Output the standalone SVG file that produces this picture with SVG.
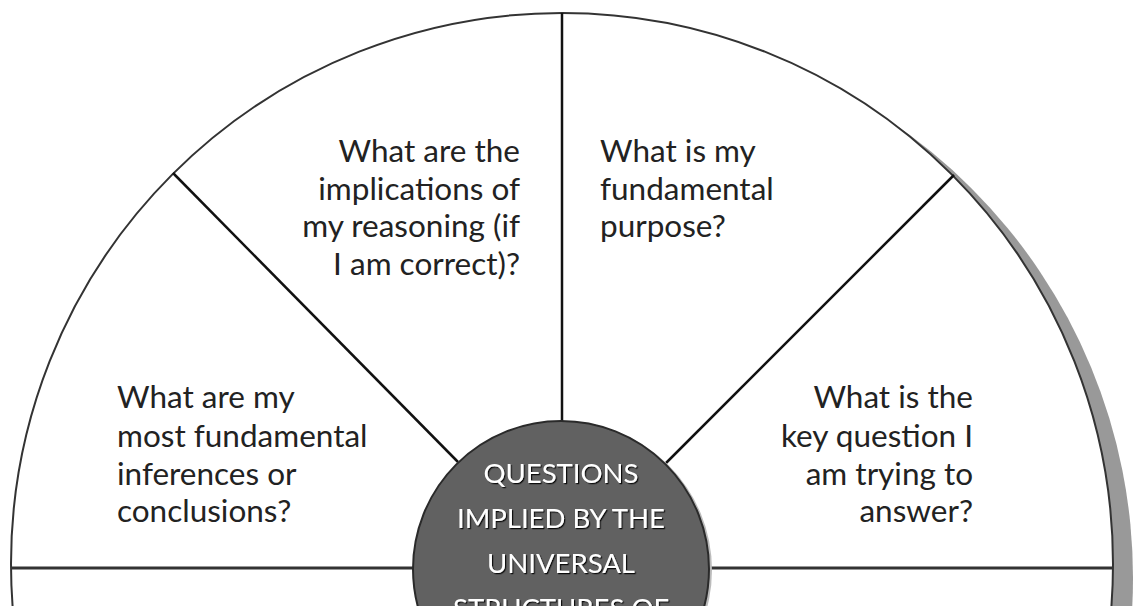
<svg xmlns="http://www.w3.org/2000/svg" width="1137" height="606" viewBox="0 0 1137 606">
<style>
.q{font-family:Lato,"Open Sans","DejaVu Sans",sans-serif;font-size:31.5px;fill:#222}
.c{font-family:Lato,"Open Sans","DejaVu Sans",sans-serif;font-size:27.5px;fill:#fff;text-anchor:middle;filter:url(#emb)}
.div{stroke:#111;stroke-width:2.5;fill:none}
</style>
<defs>
<filter id="emb" x="-10%" y="-30%" width="120%" height="160%">
<feDropShadow dx="1.2" dy="1.2" stdDeviation="0.6" flood-color="#111" flood-opacity="1"/>
</filter>
</defs>
<rect width="1137" height="606" fill="#fff"/>
<g id="wheel">
<circle cx="582" cy="578" r="551" fill="#999"/>
<circle cx="562" cy="564" r="551" fill="#fff" stroke="#333" stroke-width="2"/>
</g>
<g id="connectors">
<line class="div" x1="562" y1="13" x2="562" y2="421"/>
<line class="div" x1="173" y1="173" x2="458" y2="462"/>
<line class="div" x1="954" y1="175" x2="666" y2="463"/>
<line x1="11" y1="568" x2="413" y2="568" stroke="#333" stroke-width="3"/>
<line x1="709" y1="568" x2="1113" y2="568" stroke="#333" stroke-width="3"/>
</g>
<g id="center">
<circle cx="564" cy="570" r="148" fill="#bbb"/>
<circle cx="561" cy="569" r="148" fill="#616161" stroke="#2a2a2a" stroke-width="2"/>
<text class="c" x="561" y="483">QUESTIONS</text>
<text class="c" x="561" y="528">IMPLIED BY THE</text>
<text class="c" x="561" y="573">UNIVERSAL</text>
<text class="c" x="561" y="618">STRUCTURES OF</text>
</g>
<g id="implications">
<text class="q" text-anchor="end" x="520"><tspan x="520" y="162">What are the</tspan><tspan x="520" y="200">implications of</tspan><tspan x="520" y="237">my reasoning (if</tspan><tspan x="520" y="275">I am correct)?</tspan></text>
</g>
<g id="purpose">
<text class="q" x="600"><tspan x="600" y="162">What is my</tspan><tspan x="600" y="200">fundamental</tspan><tspan x="600" y="237">purpose?</tspan></text>
</g>
<g id="inferences">
<text class="q" x="117"><tspan x="117" y="408">What are my</tspan><tspan x="117" y="447">most fundamental</tspan><tspan x="117" y="485">inferences or</tspan><tspan x="117" y="522">conclusions?</tspan></text>
</g>
<g id="question">
<text class="q" text-anchor="end" x="973"><tspan x="973" y="408">What is the</tspan><tspan x="973" y="447">key question I</tspan><tspan x="973" y="485">am trying to</tspan><tspan x="973" y="522">answer?</tspan></text>
</g>
</svg>
